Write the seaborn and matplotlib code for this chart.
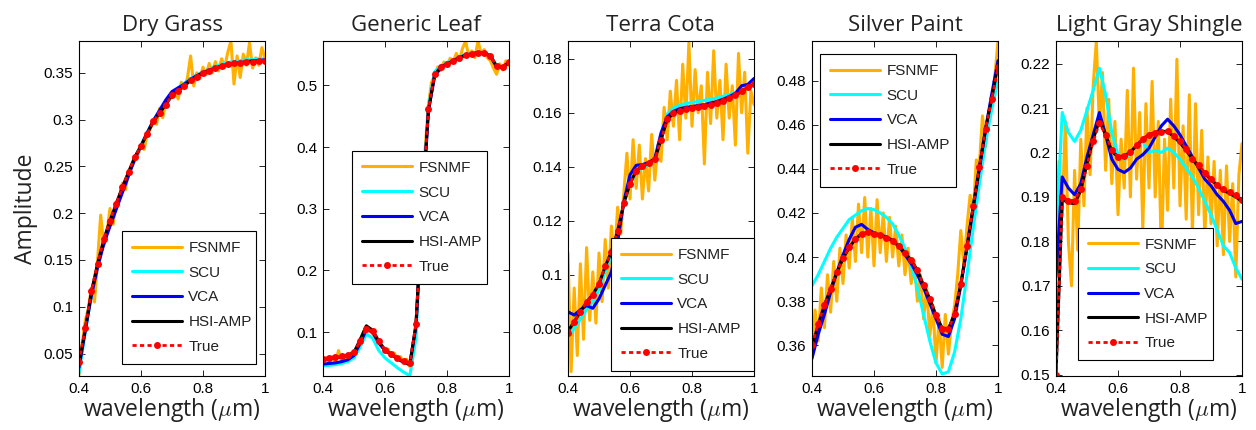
import numpy as np
import pandas as pd
import matplotlib
matplotlib.use("Agg")
import matplotlib.pyplot as plt
import seaborn as sns
from matplotlib.ticker import FuncFormatter, MultipleLocator

# ---- wavelength grids (um) ----
WL_COARSE = [0.40, 0.42, 0.44, 0.46, 0.48, 0.50, 0.52, 0.54, 0.56, 0.58,
             0.60, 0.62, 0.64, 0.66, 0.68, 0.70, 0.72, 0.74, 0.76, 0.78,
             0.80, 0.82, 0.84, 0.86, 0.88, 0.90, 0.92, 0.94, 0.96, 0.98, 1.00]
WL_FINE = [0.40, 0.41, 0.42, 0.43, 0.44, 0.45, 0.46, 0.47, 0.48, 0.49,
           0.50, 0.51, 0.52, 0.53, 0.54, 0.55, 0.56, 0.57, 0.58, 0.59,
           0.60, 0.61, 0.62, 0.63, 0.64, 0.65, 0.66, 0.67, 0.68, 0.69,
           0.70, 0.71, 0.72, 0.73, 0.74, 0.75, 0.76, 0.77, 0.78, 0.79,
           0.80, 0.81, 0.82, 0.83, 0.84, 0.85, 0.86, 0.87, 0.88, 0.89,
           0.90, 0.91, 0.92, 0.93, 0.94, 0.95, 0.96, 0.97, 0.98, 0.99, 1.00]

TITLES = ["Dry Grass", "Generic Leaf", "Terra Cota", "Silver Paint", "Light Gray Shingle"]

# ---- Dry Grass ----
fsnmf_dry = [0.027, 0.060, 0.085, 0.098, 0.120, 0.105, 0.150, 0.198, 0.165, 0.180,
             0.205, 0.188, 0.212, 0.215, 0.232, 0.225, 0.245, 0.250, 0.256, 0.262,
             0.272, 0.268, 0.284, 0.290, 0.298, 0.295, 0.312, 0.302, 0.318, 0.322,
             0.324, 0.331, 0.322, 0.340, 0.333, 0.345, 0.368, 0.336, 0.350, 0.344,
             0.356, 0.348, 0.360, 0.350, 0.362, 0.352, 0.365, 0.356, 0.372, 0.384,
             0.338, 0.368, 0.345, 0.370, 0.358, 0.382, 0.355, 0.366, 0.358, 0.377, 0.365]
scu_dry = [0.029, 0.072, 0.113, 0.144, 0.169, 0.189, 0.207, 0.225, 0.242, 0.259,
           0.272, 0.286, 0.299, 0.309, 0.319, 0.329, 0.334, 0.339, 0.344, 0.348,
           0.351, 0.354, 0.357, 0.359, 0.361, 0.362, 0.363, 0.364, 0.364, 0.365, 0.365]
vca_dry = [0.035, 0.074, 0.112, 0.142, 0.167, 0.186, 0.204, 0.222, 0.240, 0.258,
           0.272, 0.286, 0.299, 0.310, 0.321, 0.330, 0.334, 0.338, 0.343, 0.347,
           0.350, 0.353, 0.355, 0.357, 0.359, 0.360, 0.361, 0.362, 0.363, 0.363, 0.364]
hsi_dry = [0.038, 0.076, 0.116, 0.146, 0.172, 0.192, 0.210, 0.228, 0.244, 0.260,
           0.272, 0.285, 0.298, 0.307, 0.316, 0.326, 0.331, 0.336, 0.342, 0.346,
           0.350, 0.352, 0.355, 0.357, 0.359, 0.360, 0.360, 0.362, 0.362, 0.363, 0.363]
true_dry = [0.041, 0.077, 0.117, 0.146, 0.172, 0.192, 0.210, 0.228, 0.244, 0.260,
            0.272, 0.285, 0.298, 0.307, 0.316, 0.326, 0.331, 0.336, 0.342, 0.346,
            0.350, 0.352, 0.355, 0.357, 0.359, 0.360, 0.360, 0.362, 0.362, 0.363, 0.363]

# ---- Generic Leaf ----
fsnmf_leaf = [0.052, 0.058, 0.048, 0.060, 0.050, 0.070, 0.052, 0.062, 0.058, 0.066,
              0.066, 0.072, 0.085, 0.100, 0.110, 0.103, 0.098, 0.088, 0.082, 0.078,
              0.068, 0.072, 0.060, 0.066, 0.055, 0.060, 0.050, 0.056, 0.044, 0.060,
              0.115, 0.200, 0.300, 0.400, 0.468, 0.505, 0.515, 0.530, 0.524, 0.538,
              0.532, 0.544, 0.538, 0.552, 0.540, 0.560, 0.572, 0.548, 0.556, 0.545,
              0.572, 0.552, 0.558, 0.545, 0.540, 0.528, 0.518, 0.535, 0.525, 0.540, 0.532]
scu_leaf = [0.045, 0.046, 0.047, 0.049, 0.052, 0.058, 0.076, 0.097, 0.090, 0.070,
            0.058, 0.050, 0.042, 0.035, 0.029, 0.090, 0.300, 0.465, 0.522, 0.532,
            0.537, 0.541, 0.546, 0.550, 0.552, 0.554, 0.553, 0.548, 0.532, 0.530, 0.538]
vca_leaf = [0.048, 0.049, 0.050, 0.052, 0.055, 0.062, 0.082, 0.104, 0.100, 0.082,
            0.070, 0.063, 0.057, 0.051, 0.048, 0.110, 0.300, 0.458, 0.515, 0.528,
            0.534, 0.540, 0.545, 0.549, 0.551, 0.553, 0.552, 0.547, 0.530, 0.529, 0.537]
hsi_leaf = [0.055, 0.057, 0.058, 0.060, 0.062, 0.067, 0.088, 0.110, 0.103, 0.085,
            0.071, 0.064, 0.057, 0.051, 0.047, 0.112, 0.300, 0.460, 0.517, 0.530,
            0.535, 0.540, 0.545, 0.549, 0.551, 0.553, 0.553, 0.548, 0.531, 0.530, 0.538]
true_leaf = [0.057, 0.058, 0.059, 0.0605, 0.063, 0.068, 0.085, 0.105, 0.102, 0.085,
             0.0715, 0.065, 0.058, 0.0525, 0.049, 0.1135, 0.300, 0.461, 0.518, 0.530,
             0.535, 0.540, 0.545, 0.549, 0.551, 0.553, 0.553, 0.548, 0.531, 0.530, 0.538]

# ---- Terra Cota ----
fsnmf_terra = [0.108, 0.064, 0.095, 0.070, 0.104, 0.076, 0.110, 0.083, 0.101, 0.082,
               0.108, 0.090, 0.113, 0.095, 0.118, 0.105, 0.125, 0.115, 0.130, 0.145,
               0.128, 0.150, 0.132, 0.148, 0.128, 0.143, 0.131, 0.152, 0.135, 0.148,
               0.142, 0.162, 0.150, 0.168, 0.155, 0.172, 0.150, 0.178, 0.158, 0.186,
               0.155, 0.176, 0.160, 0.170, 0.141, 0.175, 0.156, 0.183, 0.158, 0.172,
               0.150, 0.178, 0.158, 0.170, 0.148, 0.182, 0.160, 0.175, 0.145, 0.168, 0.163]
scu_terra = [0.0770, 0.0800, 0.0835, 0.0870, 0.0900, 0.0945, 0.1010, 0.1070, 0.1150, 0.1260,
             0.1335, 0.1380, 0.1398, 0.1410, 0.1425, 0.1510, 0.1595, 0.1618, 0.1628, 0.1634,
             0.1638, 0.1642, 0.1646, 0.1650, 0.1655, 0.1661, 0.1668, 0.1675, 0.1683, 0.1692, 0.1702]
vca_terra = [0.0862, 0.0850, 0.0870, 0.0885, 0.0875, 0.0910, 0.0960, 0.1010, 0.1120, 0.1270,
             0.1370, 0.1405, 0.1408, 0.1415, 0.1430, 0.1525, 0.1585, 0.1605, 0.1615, 0.1620,
             0.1623, 0.1627, 0.1630, 0.1636, 0.1642, 0.1650, 0.1660, 0.1672, 0.1700, 0.1705, 0.1727]
hsi_terra = [0.0790, 0.0825, 0.0862, 0.0898, 0.0926, 0.0965, 0.1030, 0.1085, 0.1160, 0.1265,
             0.1337, 0.1385, 0.1402, 0.1412, 0.1427, 0.1500, 0.1575, 0.1598, 0.1608, 0.1614,
             0.1618, 0.1621, 0.1624, 0.1630, 0.1636, 0.1644, 0.1654, 0.1665, 0.1679, 0.1694, 0.1706]
true_terra = [0.0785, 0.0825, 0.0862, 0.0898, 0.0926, 0.0965, 0.1030, 0.1085, 0.1160, 0.1265,
              0.1337, 0.1385, 0.1402, 0.1412, 0.1427, 0.1500, 0.1575, 0.1598, 0.1608, 0.1614,
              0.1618, 0.1621, 0.1624, 0.1630, 0.1636, 0.1644, 0.1654, 0.1665, 0.1679, 0.1694, 0.1706]

# ---- Silver Paint ----
fsnmf_silver = [0.358, 0.376, 0.362, 0.386, 0.368, 0.392, 0.375, 0.398, 0.380, 0.404,
                0.388, 0.410, 0.395, 0.418, 0.398, 0.424, 0.402, 0.427, 0.400, 0.422,
                0.396, 0.426, 0.402, 0.420, 0.398, 0.418, 0.400, 0.414, 0.396, 0.410,
                0.392, 0.404, 0.388, 0.398, 0.380, 0.392, 0.372, 0.386, 0.364, 0.378,
                0.352, 0.372, 0.350, 0.374, 0.356, 0.370, 0.378, 0.392, 0.412, 0.396,
                0.414, 0.428, 0.420, 0.444, 0.442, 0.464, 0.450, 0.466, 0.470, 0.482, 0.498]
scu_silver = [0.387, 0.392, 0.398, 0.404, 0.409, 0.413, 0.417, 0.419, 0.421, 0.422,
              0.4215, 0.420, 0.418, 0.415, 0.410, 0.404, 0.396, 0.386, 0.374, 0.362,
              0.352, 0.347, 0.348, 0.357, 0.372, 0.392, 0.413, 0.433, 0.452, 0.467, 0.480]
vca_silver = [0.354, 0.365, 0.374, 0.384, 0.393, 0.401, 0.408, 0.4135, 0.4148, 0.4125,
              0.411, 0.410, 0.4092, 0.4075, 0.405, 0.401, 0.397, 0.392, 0.386, 0.379,
              0.372, 0.365, 0.364, 0.372, 0.387, 0.404, 0.422, 0.440, 0.458, 0.474, 0.489]
hsi_silver = [0.359, 0.3695, 0.3782, 0.3855, 0.3930, 0.3993, 0.4043, 0.4082, 0.4105, 0.4112,
              0.4103, 0.4098, 0.4088, 0.4072, 0.4050, 0.4020, 0.3985, 0.3940, 0.3872, 0.3811,
              0.3736, 0.3678, 0.3675, 0.3743, 0.3879, 0.4048, 0.4231, 0.4408, 0.4581, 0.4720, 0.4870]
true_silver = [0.360, 0.3698, 0.3784, 0.3857, 0.3932, 0.3995, 0.4045, 0.4083, 0.4106, 0.4113,
               0.4103, 0.4098, 0.4088, 0.4072, 0.4050, 0.4020, 0.3985, 0.3940, 0.3872, 0.3811,
               0.3736, 0.3675, 0.3672, 0.3743, 0.3879, 0.4048, 0.4231, 0.4408, 0.4581, 0.4717, 0.4860]

# ---- Light Gray Shingle ----
fsnmf_shingle = [0.183, 0.198, 0.186, 0.207, 0.180, 0.170, 0.196, 0.178, 0.203, 0.188,
                 0.210, 0.195, 0.215, 0.225, 0.206, 0.218, 0.196, 0.212, 0.193, 0.207,
                 0.186, 0.203, 0.192, 0.214, 0.190, 0.219, 0.194, 0.209, 0.183, 0.211,
                 0.192, 0.216, 0.190, 0.207, 0.176, 0.203, 0.187, 0.212, 0.192, 0.221,
                 0.188, 0.206, 0.185, 0.213, 0.182, 0.211, 0.186, 0.205, 0.181, 0.199,
                 0.184, 0.198, 0.179, 0.196, 0.177, 0.197, 0.180, 0.193, 0.172, 0.195, 0.202]
scu_shingle = [0.180, 0.209, 0.2045, 0.2025, 0.205, 0.2095, 0.214, 0.219, 0.213, 0.2045,
               0.1995, 0.1985, 0.200, 0.2015, 0.2025, 0.200, 0.2005, 0.200, 0.201, 0.200,
               0.1985, 0.1965, 0.1945, 0.192, 0.189, 0.186, 0.1825, 0.179, 0.1775, 0.174, 0.1715]
vca_shingle = [0.172, 0.1945, 0.192, 0.1905, 0.193, 0.199, 0.204, 0.209, 0.204, 0.1985,
               0.1962, 0.1955, 0.1965, 0.1985, 0.1995, 0.201, 0.2035, 0.206, 0.2075, 0.206,
               0.204, 0.2015, 0.199, 0.1965, 0.194, 0.1925, 0.1905, 0.189, 0.187, 0.184, 0.1845]
hsi_shingle = [0.150, 0.1895, 0.1887, 0.1885, 0.1915, 0.1975, 0.2030, 0.2072, 0.2040, 0.2003,
               0.1990, 0.1992, 0.2001, 0.2016, 0.2030, 0.2040, 0.2045, 0.2048, 0.2047, 0.2036,
               0.2022, 0.2005, 0.1985, 0.1968, 0.1953, 0.1939, 0.1926, 0.1915, 0.1908, 0.1900, 0.1890]
true_shingle = [0.150, 0.190, 0.1892, 0.1892, 0.1918, 0.197, 0.2025, 0.2066, 0.204, 0.2006,
                0.1991, 0.1993, 0.2002, 0.2017, 0.2031, 0.204, 0.2044, 0.2047, 0.2049, 0.2038,
                0.2025, 0.2008, 0.1986, 0.1971, 0.1955, 0.1941, 0.1927, 0.1917, 0.1912, 0.1905, 0.1893]

FSNMF = [fsnmf_dry, fsnmf_leaf, fsnmf_terra, fsnmf_silver, fsnmf_shingle]
SCU = [scu_dry, scu_leaf, scu_terra, scu_silver, scu_shingle]
VCA = [vca_dry, vca_leaf, vca_terra, vca_silver, vca_shingle]
HSI = [hsi_dry, hsi_leaf, hsi_terra, hsi_silver, hsi_shingle]
TRUE = [true_dry, true_leaf, true_terra, true_silver, true_shingle]

YLIMS = [(0.026, 0.384), (0.0287, 0.572), (0.0624, 0.1866), (0.3461, 0.4979), (0.1497, 0.2251)]
YSTEPS = [0.05, 0.1, 0.02, 0.02, 0.01]
# legend upper-left corner and width, in axes fraction
LEG_BOX = [(0.231, 0.433, 0.72), (0.156, 0.672, 0.726), (0.231, 0.412, 0.77),
           (0.043, 0.961, 0.73), (0.118, 0.443, 0.727)]
AX_LEFT = [79, 323, 568, 812, 1056]

COLORS = {"FSNMF": "#FFB000", "SCU": "#00FFFF", "VCA": "#0000F5",
          "HSI-AMP": "#000000", "True": "#FF0000"}

sns.set_style("ticks", {"xtick.direction": "in", "ytick.direction": "in"})
plt.rcParams["font.family"] = ["Liberation Sans", "DejaVu Sans"]
plt.rcParams["mathtext.fontset"] = "cm"
LABEL_FONT = ["Open Sans", "DejaVu Sans"]

W, H = 1256, 430
fig = plt.figure(figsize=(W / 100, H / 100), dpi=100)

fmt = FuncFormatter(lambda v, p: "%g" % round(v, 4))
lw = 2.2

for i, title in enumerate(TITLES):
    ax = fig.add_axes([AX_LEFT[i] / W, 54 / H, 186 / W, 335 / H])
    sns.lineplot(x=WL_FINE, y=FSNMF[i], ax=ax, color=COLORS["FSNMF"], linewidth=lw,
                 label="FSNMF", estimator=None, sort=False)
    sns.lineplot(x=WL_COARSE, y=SCU[i], ax=ax, color=COLORS["SCU"], linewidth=lw,
                 label="SCU", estimator=None, sort=False)
    sns.lineplot(x=WL_COARSE, y=VCA[i], ax=ax, color=COLORS["VCA"], linewidth=lw,
                 label="VCA", estimator=None, sort=False)
    sns.lineplot(x=WL_COARSE, y=HSI[i], ax=ax, color=COLORS["HSI-AMP"], linewidth=lw,
                 label="HSI-AMP", estimator=None, sort=False)
    sns.lineplot(x=WL_COARSE, y=TRUE[i], ax=ax, color=COLORS["True"], linewidth=2.0,
                 dashes=(1.5, 1.2), marker="o", markersize=5, markeredgewidth=0,
                 label="True", estimator=None, sort=False)

    ax.set_xlim(0.4, 1.0)
    ax.set_ylim(*YLIMS[i])
    ax.xaxis.set_major_locator(MultipleLocator(0.2))
    ax.yaxis.set_major_locator(MultipleLocator(YSTEPS[i]))
    ax.xaxis.set_major_formatter(fmt)
    ax.yaxis.set_major_formatter(fmt)
    ax.tick_params(direction="in", top=True, right=True, length=4, width=0.6,
                   labelsize=11, pad=4, colors="black")
    for sp in ax.spines.values():
        sp.set_visible(True)
        sp.set_linewidth(0.8)
        sp.set_color("black")

    ax.set_title(title, fontsize=16, pad=7, family=LABEL_FONT, color="#222222")
    ax.set_xlabel(r"wavelength ($\mu$m)", fontsize=16.5, labelpad=0,
                  family=LABEL_FONT, color="#222222")
    if i == 0:
        ax.set_ylabel("Amplitude", fontsize=16.5, labelpad=4,
                      family=LABEL_FONT, color="#222222")
    else:
        ax.set_ylabel("")

    x0, ytop, wd = LEG_BOX[i]
    leg = ax.legend(loc="upper left", bbox_to_anchor=(x0, ytop, wd, 0), mode="expand",
                    borderaxespad=0, fontsize=11, handlelength=3.3, handletextpad=0.4,
                    labelspacing=0.7, borderpad=0.65, fancybox=False, framealpha=1,
                    edgecolor="black", numpoints=1)
    leg.get_frame().set_linewidth(0.8)
    for t in leg.get_texts():
        t.set_color("#222222")

fig.savefig("out.png", dpi=100)
